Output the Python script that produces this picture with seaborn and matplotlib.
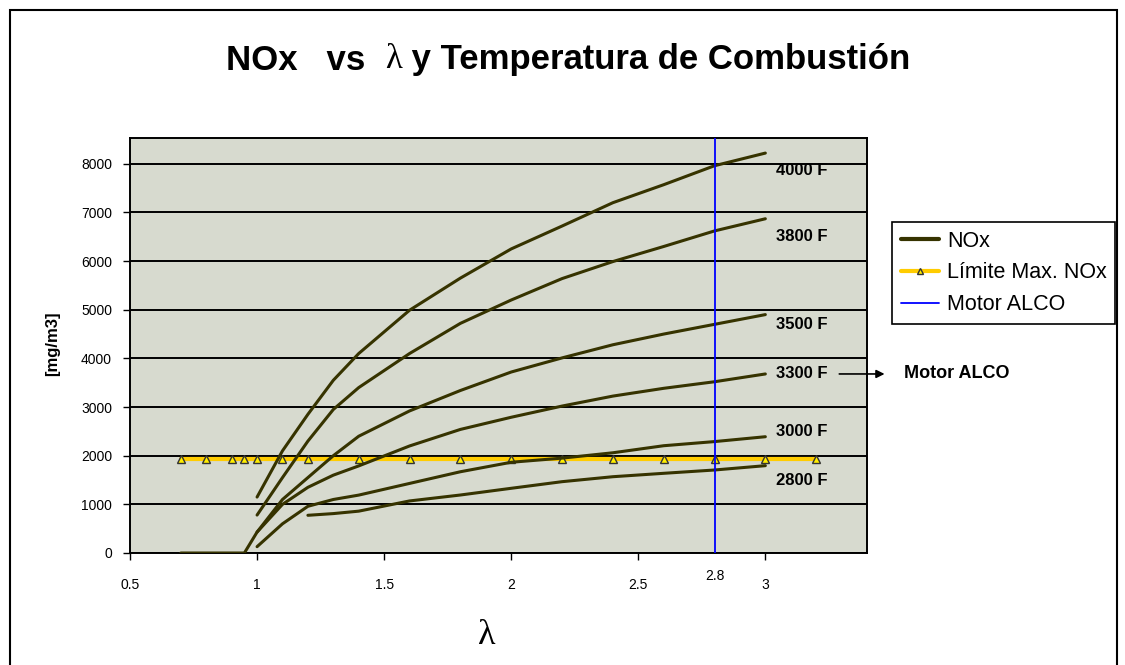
import matplotlib
matplotlib.use("Agg")
import matplotlib.pyplot as plt
from matplotlib.lines import Line2D
from matplotlib.patches import Rectangle
import pandas as pd
import seaborn as sns

# ---------------- data ----------------
lam_main = [1.0, 1.1, 1.2, 1.3, 1.4, 1.6, 1.8, 2.0, 2.2, 2.4, 2.6, 2.8, 3.0]
nox_4000 = [1150, 2100, 2850, 3550, 4100, 4990, 5650, 6250, 6720, 7200, 7570, 7960, 8220]
nox_3800 = [780, 1550, 2300, 2950, 3400, 4100, 4720, 5200, 5640, 5990, 6300, 6620, 6870]
nox_3500 = [430, 1100, 1550, 2000, 2400, 2920, 3340, 3720, 4010, 4280, 4500, 4700, 4900]
lam_3300 = [0.7, 0.8, 0.9, 0.95] + lam_main
nox_3300 = [0, 0, 0, 0, 430, 1000, 1350, 1600, 1790, 2200, 2540, 2790, 3020, 3225, 3385, 3520, 3680]
nox_3000 = [130, 600, 960, 1100, 1190, 1430, 1670, 1865, 1950, 2060, 2205, 2290, 2390]
lam_2800 = [1.2, 1.3, 1.4, 1.6, 1.8, 2.0, 2.2, 2.4, 2.6, 2.8, 3.0]
nox_2800 = [775, 810, 860, 1070, 1192, 1330, 1466, 1568, 1638, 1706, 1795]

lam_limit = [0.7, 0.8, 0.9, 0.95, 1.0, 1.1, 1.2, 1.4, 1.6, 1.8, 2.0, 2.2, 2.4, 2.6, 2.8, 3.0, 3.2]
limit_value = 1930
motor_lambda = 2.8

curve_labels = ["4000 F", "3800 F", "3500 F", "3300 F", "3000 F", "2800 F"]
curve_label_y = [7870, 6500, 4690, 3680, 2490, 1500]

x_ticks = [0.5, 1, 1.5, 2, 2.5, 3]
x_tick_labels = ["0.5", "1", "1.5", "2", "2.5", "3"]
y_ticks = [0, 1000, 2000, 3000, 4000, 5000, 6000, 7000, 8000]

series = {
    "4000 F": (lam_main, nox_4000),
    "3800 F": (lam_main, nox_3800),
    "3500 F": (lam_main, nox_3500),
    "3300 F": (lam_3300, nox_3300),
    "3000 F": (lam_main, nox_3000),
    "2800 F": (lam_2800, nox_2800),
}
rows = []
for name, (xs, ys) in series.items():
    for x, y in zip(xs, ys):
        rows.append({"lam": x, "nox": y, "serie": name})
df = pd.DataFrame(rows)
df_lim = pd.DataFrame({"lam": lam_limit, "nox": [limit_value] * len(lam_limit)})

# ---------------- style ----------------
sns.set_theme(style="white")
plt.rcParams["font.family"] = ["Liberation Sans", "DejaVu Sans"]
plt.rcParams["text.color"] = "black"
plt.rcParams["axes.labelcolor"] = "black"
plt.rcParams["xtick.color"] = "black"
plt.rcParams["ytick.color"] = "black"

W, H = 1125, 665
fig = plt.figure(figsize=(W / 100, H / 100), dpi=100)
L, R, T, B = 130, 867, 138, 553
ax = fig.add_axes([L / W, 1 - B / H, (R - L) / W, (B - T) / H])
ax.set_facecolor("#D7DACF")

curve_color = "#363300"

sns.lineplot(data=df_lim, x="lam", y="nox", ax=ax, color="#FFCC00", lw=3,
             marker="^", markersize=6, markerfacecolor="#FFEE00",
             markeredgecolor="#333333", markeredgewidth=1.0, zorder=3)
sns.lineplot(data=df, x="lam", y="nox", units="serie", estimator=None, sort=False,
             ax=ax, color=curve_color, lw=2.2, zorder=4)
ax.axvline(motor_lambda, color="#0000FF", lw=1.3, zorder=5)

ax.set_xlim(0.5, 3.4)
ax.set_ylim(0, 8530)
ax.set_xticks(x_ticks)
ax.set_xticklabels(x_tick_labels)
ax.set_yticks(y_ticks)
ax.grid(axis="y", color="black", lw=1.4)
ax.grid(axis="x", visible=False)
ax.set_axisbelow(True)
for s in ax.spines.values():
    s.set_color("black")
    s.set_linewidth(1.4)
ax.tick_params(axis="x", direction="out", length=5, width=1, colors="black",
               labelsize=10, pad=13)
ax.tick_params(axis="y", direction="out", length=5, width=1, colors="black",
               labelsize=10, pad=8)
ax.tick_params(bottom=True, left=True)

ax.text(motor_lambda, -0.056, "2.8", transform=ax.get_xaxis_transform(),
        ha="center", va="center", fontsize=10)

ax.set_ylabel("[mg/m3]", fontsize=12, fontweight="bold")
ax.yaxis.set_label_coords((60 - L) / (R - L), (B - 344) / (B - T))
ax.set_xlabel("λ", fontsize=26, family=["Liberation Serif", "DejaVu Serif"])
ax.xaxis.set_label_coords((487 - L) / (R - L), (B - 619) / (B - T))

for lab, yv in zip(curve_labels, curve_label_y):
    ax.text(3.04, yv, lab, fontsize=12, fontweight="bold", ha="left", va="center")

ax.annotate("", xy=(3.48, 3680), xytext=(3.28, 3680), annotation_clip=False,
            arrowprops=dict(arrowstyle="-|>", color="black", lw=1.2, mutation_scale=12))
ax.text(3.547, 3680, "Motor ALCO", fontsize=13, fontweight="bold", ha="left",
        va="center", clip_on=False)

handles = [
    Line2D([], [], color=curve_color, lw=3),
    Line2D([], [], color="#FFCC00", lw=3, marker="^", markersize=5,
           markerfacecolor="#FFEE00", markeredgecolor="#333333"),
    Line2D([], [], color="#0000FF", lw=1.3),
]
leg = fig.legend(handles, ["NOx", "Límite Max. NOx", "Motor ALCO"],
                 loc="upper left", bbox_to_anchor=(892 / W, 1 - 222 / H),
                 borderaxespad=0, fontsize=15.5, frameon=True, fancybox=False,
                 edgecolor="black", framealpha=1, handlelength=1.8,
                 handletextpad=0.35, labelspacing=0.5, borderpad=0.4)
leg.get_frame().set_linewidth(1.2)

# title made of three pieces (sans bold / serif lambda / sans bold)
title_parts = ["NOx   vs  ", "λ", " y Temperatura de Combustión"]
title_fs = 25
ty = 1 - 60 / H
renderer = fig.canvas.get_renderer()
pieces = []
for i, part in enumerate(title_parts):
    if i == 1:
        t = fig.text(0, ty, part, fontsize=title_fs, va="center", ha="left",
                     family=["Liberation Serif", "DejaVu Serif"])
    else:
        t = fig.text(0, ty, part, fontsize=title_fs, va="center", ha="left",
                     fontweight="bold")
    pieces.append(t)
widths = [p.get_window_extent(renderer).width for p in pieces]
total = sum(widths)
x0 = (568 - total / 2)
for p, w in zip(pieces, widths):
    p.set_x(x0 / W)
    x0 += w

fig.patches.append(Rectangle((10 / W, -0.1), (1117 - 10) / W, 1.1 - 10 / H,
                             transform=fig.transFigure, fill=False,
                             edgecolor="black", lw=1.5))

fig.savefig("out.png", dpi=100)
